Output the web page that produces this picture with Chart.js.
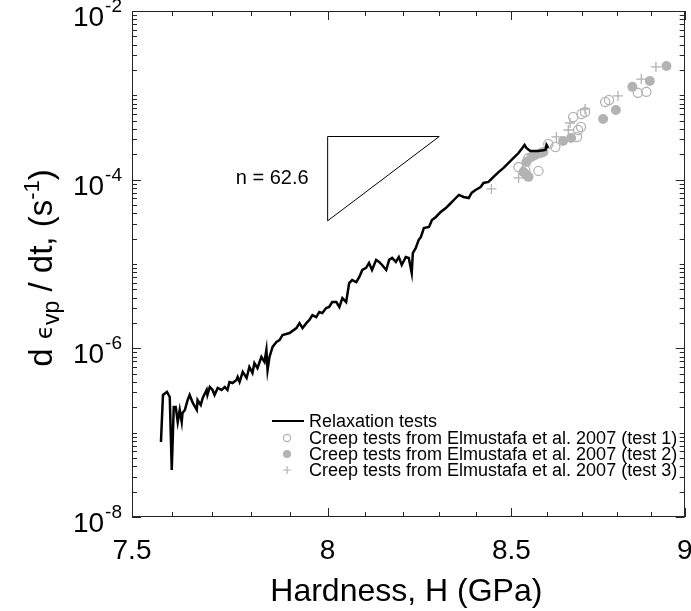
<!DOCTYPE html>
<html>
<head>
<meta charset="utf-8">
<script src="https://cdn.jsdelivr.net/npm/chart.js@4.4.1/dist/chart.umd.min.js"></script>
<style>
  html, body { margin: 0; padding: 0; background: #ffffff; }
  #wrap { width: 691px; height: 611px; }
</style>
</head>
<body>
<div id="wrap"><canvas id="chart" width="691" height="611"></canvas></div>
<script>
// Relaxation test: hardness H (GPa) and viscoplastic strain rate (1/s)
const relaxH = [
  7.572,7.577,7.587,7.594,7.599,7.604,7.609,7.614,7.619,7.624,
  7.626,7.632,7.639,7.644,7.649,7.652,7.662,7.664,7.672,7.677,
  7.687,7.689,7.695,7.702,7.707,7.715,7.725,7.733,7.740,7.745,
  7.753,7.763,7.766,7.771,7.779,7.789,7.796,7.804,7.809,7.817,
  7.827,7.835,7.840,7.843,7.848,7.856,7.866,7.874,7.882,7.900,
  7.918,7.926,7.934,7.944,7.952,7.960,7.970,7.978,7.986,7.996,
  8.004,8.012,8.023,8.031,8.039,8.049,8.057,8.065,8.076,8.084,
  8.092,8.102,8.110,8.118,8.129,8.137,8.145,8.156,8.164,8.172,
  8.182,8.190,8.198,8.209,8.217,8.225,8.228,8.236,8.244,8.250,
  8.258,8.272,8.280,8.291,8.304,8.318,8.332,8.340,8.354,8.367,
  8.381,8.389,8.400,8.414,8.422,8.436,8.450,8.464,8.478,8.492,
  8.506,8.520,8.537,8.542,8.553,8.576,8.596,8.599,8.604
];
const relaxRate = [
  7.76e-8,2.80e-7,3.04e-7,2.65e-7,3.61e-8,2.02e-7,2.02e-7,1.34e-7,1.86e-7,1.34e-7,
  1.71e-7,1.86e-7,2.44e-7,2.80e-7,2.44e-7,2.25e-7,1.86e-7,2.44e-7,2.13e-7,2.58e-7,
  3.21e-7,2.80e-7,3.48e-7,3.21e-7,2.80e-7,3.39e-7,3.21e-7,3.48e-7,3.21e-7,3.99e-7,
  3.88e-7,4.21e-7,4.58e-7,3.99e-7,5.25e-7,4.45e-7,6.01e-7,5.11e-7,6.70e-7,5.84e-7,
  7.90e-7,6.89e-7,9.55e-7,5.53e-7,7.90e-7,1.04e-6,1.19e-6,1.25e-6,1.44e-6,1.52e-6,
  1.74e-6,1.99e-6,1.74e-6,1.99e-6,2.17e-6,2.48e-6,2.35e-6,2.70e-6,2.62e-6,3.01e-6,
  3.09e-6,3.54e-6,3.54e-6,3.09e-6,3.95e-6,3.54e-6,5.94e-6,6.45e-6,6.11e-6,7.01e-6,
  8.50e-6,8.99e-6,1.03e-5,8.49e-6,1.12e-5,1.06e-5,9.73e-6,8.49e-6,1.12e-5,1.18e-5,
  1.06e-5,1.21e-5,9.73e-6,1.21e-5,1.18e-5,7.82e-6,1.35e-5,1.55e-5,1.93e-5,2.09e-5,
  2.67e-5,2.75e-5,3.32e-5,3.61e-5,4.14e-5,4.61e-5,5.29e-5,5.74e-5,6.59e-5,6.23e-5,
  6.06e-5,6.96e-5,7.54e-5,8.18e-5,9.14e-5,9.39e-5,1.08e-4,1.23e-4,1.38e-4,1.58e-4,
  1.81e-4,2.07e-4,2.58e-4,2.38e-4,2.19e-4,2.19e-4,2.25e-4,2.58e-4,2.38e-4
];

// Creep tests (Elmustafa et al. 2007)
const creep1H = [8.767,8.778,8.862,8.887,8.709,8.699,8.675,8.697,8.689,8.686,8.624,8.604,8.548,8.520,8.576,8.539];
const creep1Rate = [8.35e-4,8.81e-4,1.07e-3,1.10e-3,6.35e-4,6.01e-4,5.54e-4,4.22e-4,3.88e-4,3.21e-4,2.44e-4,2.65e-4,1.81e-4,1.41e-4,1.27e-4,1.30e-4];
const creep2H = [8.946,8.897,8.846,8.798,8.761,8.669,8.646,8.590,8.583,8.567,8.556,8.542,8.534,8.542,8.548];
const creep2Rate = [2.23e-3,1.48e-3,1.26e-3,6.71e-4,5.25e-4,3.12e-4,2.88e-4,2.13e-4,2.07e-4,1.96e-4,1.86e-4,1.62e-4,1.23e-4,1.14e-4,1.08e-4];
const creep3H = [8.915,8.872,8.804,8.709,8.666,8.661,8.627,8.520,8.444];
const creep3Rate = [2.17e-3,1.56e-3,9.83e-4,6.89e-4,4.70e-4,3.88e-4,3.21e-4,1.05e-4,7.76e-5];

// Slope triangle for n = 62.6 (one decade of rate over the hardness span)
const slopeH = [8.0, 8.0, 8.30, 8.0];
const slopeRate = [3.25e-5, 3.25e-4, 3.25e-4, 3.25e-5];
const slopeLabel = 'n = 62.6';

// Axis ticks and labels
const xMajorTicks = [7.5, 8, 8.5, 9];
const xTickLabels = ['7.5', '8', '8.5', '9'];
const xMinorTicks = [7.6, 7.7, 7.8, 7.9, 8.1, 8.2, 8.3, 8.4, 8.6, 8.7, 8.8, 8.9];
const yMajorTicks = [1e-8, 1e-6, 1e-4, 1e-2];
const yTickExponents = ['-8', '-6', '-4', '-2'];
const yDecades = [-8, -7, -6, -5, -4, -3];

const seriesLabels = [
  'Relaxation tests',
  'Creep tests from Elmustafa et al. 2007 (test 1)',
  'Creep tests from Elmustafa et al. 2007 (test 2)',
  'Creep tests from Elmustafa et al. 2007 (test 3)'
];

const FONT = '"Liberation Sans", Arial, Helvetica, sans-serif';
const GREY = '#b3b3b3';
const AXIS = '#262626';

const pts = (xs, ys) => xs.map((x, i) => ({ x: x, y: ys[i] }));

// Draws a run of text pieces (normal, subscript, superscript) on one baseline
function drawRuns(ctx, runs, x, y, align) {
  let total = 0;
  runs.forEach(r => {
    ctx.font = (r.size) + 'px ' + (r.family || FONT);
    r.w = ctx.measureText(r.t).width;
    total += r.w;
  });
  let cx = align === 'center' ? x - total / 2 : (align === 'right' ? x - total : x);
  ctx.textAlign = 'left';
  ctx.textBaseline = 'alphabetic';
  runs.forEach(r => {
    ctx.font = (r.size) + 'px ' + (r.family || FONT);
    ctx.fillText(r.t, cx, y + (r.dy || 0));
    cx += r.w;
  });
  return total;
}

const framePlugin = {
  id: 'frame',
  afterDraw(chart) {
    const ctx = chart.ctx;
    const a = chart.chartArea;
    const xs = chart.scales.x, ys = chart.scales.y;
    ctx.save();

    // plot box
    ctx.strokeStyle = AXIS;
    ctx.lineWidth = 1;
    ctx.strokeRect(Math.round(a.left) + 0.5, Math.round(a.top) + 0.5,
                   Math.round(a.right - a.left) - 1, Math.round(a.bottom - a.top) - 1);

    const MAJ = 9, MIN = 5;
    ctx.beginPath();
    // x ticks, bottom and top, pointing inward
    const xTick = (v, len) => {
      const px = Math.round(xs.getPixelForValue(v)) + 0.5;
      ctx.moveTo(px, a.bottom); ctx.lineTo(px, a.bottom - len);
      ctx.moveTo(px, a.top); ctx.lineTo(px, a.top + len);
    };
    xMajorTicks.forEach(v => xTick(v, MAJ));
    xMinorTicks.forEach(v => xTick(v, MIN));
    // y ticks, left and right
    const yTick = (v, len) => {
      const py = Math.round(ys.getPixelForValue(v)) + 0.5;
      ctx.moveTo(a.left, py); ctx.lineTo(a.left + len, py);
      ctx.moveTo(a.right, py); ctx.lineTo(a.right - len, py);
    };
    yMajorTicks.forEach(v => yTick(v, MAJ));
    yDecades.forEach(k => {
      for (let m = 1; m <= 9; m++) {
        const v = m * Math.pow(10, k);
        if (m === 1 && k % 2 === 0) continue;
        yTick(v, MIN);
      }
    });
    ctx.stroke();

    ctx.fillStyle = '#000000';
    // x tick labels
    ctx.font = '28px ' + FONT;
    ctx.textAlign = 'center';
    ctx.textBaseline = 'alphabetic';
    xMajorTicks.forEach((v, i) => {
      ctx.fillText(xTickLabels[i], xs.getPixelForValue(v), 559);
    });

    // y tick labels: 10 with superscript exponent
    yMajorTicks.forEach((v, i) => {
      const py = ys.getPixelForValue(v);
      ctx.font = '19px ' + FONT;
      const sw = ctx.measureText(yTickExponents[i]).width;
      const supLeft = a.left - 10 - sw;
      ctx.textAlign = 'left';
      ctx.fillText(yTickExponents[i], supLeft, py + 1);
      ctx.font = '28px ' + FONT;
      ctx.textAlign = 'right';
      ctx.fillText('10', supLeft - 1, py + 15);
    });

    // x axis title
    ctx.font = '32px ' + FONT;
    ctx.textAlign = 'center';
    ctx.fillText('Hardness, H (GPa)', (a.left + a.right) / 2 - 2, 601);

    // y axis title, rotated
    ctx.save();
    ctx.translate(52, 268);
    ctx.rotate(-Math.PI / 2);
    drawRuns(ctx, [
      { t: 'd ', size: 33 },
      { t: '\u03F5', size: 23, family: '"DejaVu Sans", sans-serif' },
      { t: 'vp', size: 23, dy: 7 },
      { t: ' / dt, (s', size: 33 },
      { t: '-1', size: 22, dy: -13 },
      { t: ')', size: 33 }
    ], 0, 0, 'center');
    ctx.restore();

    // slope label
    ctx.font = '20px ' + FONT;
    ctx.textAlign = 'right';
    ctx.textBaseline = 'middle';
    ctx.fillText(slopeLabel, xs.getPixelForValue(slopeH[0]) - 19,
                 ys.getPixelForValue(Math.sqrt(slopeRate[0] * slopeRate[1])));

    // legend
    const lx = 272, tx = 309, rows = [421, 438, 454, 470];
    ctx.font = '18px ' + FONT;
    ctx.textAlign = 'left';
    ctx.textBaseline = 'middle';
    rows.forEach((ry, i) => {
      const mx = 287;
      if (i === 0) {
        ctx.strokeStyle = '#000'; ctx.lineWidth = 2;
        ctx.beginPath(); ctx.moveTo(lx, ry); ctx.lineTo(304, ry); ctx.stroke();
      } else if (i === 1) {
        ctx.strokeStyle = GREY; ctx.lineWidth = 1.2;
        ctx.beginPath(); ctx.arc(mx, ry, 3.6, 0, Math.PI * 2); ctx.stroke();
      } else if (i === 2) {
        ctx.fillStyle = GREY;
        ctx.beginPath(); ctx.arc(mx, ry, 4, 0, Math.PI * 2); ctx.fill();
      } else {
        ctx.strokeStyle = GREY; ctx.lineWidth = 1.2;
        ctx.beginPath();
        ctx.moveTo(mx - 4, ry); ctx.lineTo(mx + 4, ry);
        ctx.moveTo(mx, ry - 4); ctx.lineTo(mx, ry + 4);
        ctx.stroke();
      }
      ctx.fillStyle = '#000';
      ctx.fillText(seriesLabels[i], tx, ry + 1);
    });

    ctx.restore();
  }
};

new Chart(document.getElementById('chart'), {
  type: 'scatter',
  data: {
    datasets: [
      {
        label: seriesLabels[0], type: 'line', data: pts(relaxH, relaxRate),
        borderColor: '#000000', borderWidth: 2.5, pointRadius: 0,
        tension: 0, fill: false, order: 0
      },
      {
        label: seriesLabels[1], data: pts(creep1H, creep1Rate),
        pointStyle: 'circle', pointRadius: 4.6, backgroundColor: 'rgba(0,0,0,0)',
        borderColor: GREY, borderWidth: 1.3, order: 2
      },
      {
        label: seriesLabels[2], data: pts(creep2H, creep2Rate),
        pointStyle: 'circle', pointRadius: 5, backgroundColor: GREY,
        borderColor: GREY, borderWidth: 0, order: 3
      },
      {
        label: seriesLabels[3], data: pts(creep3H, creep3Rate),
        pointStyle: 'cross', pointRadius: 5, backgroundColor: GREY,
        borderColor: GREY, borderWidth: 1.3, order: 1
      },
      {
        label: 'slope', type: 'line', data: pts(slopeH, slopeRate),
        borderColor: '#000000', borderWidth: 1, pointRadius: 0,
        tension: 0, fill: false, order: 0
      }
    ]
  },
  options: {
    responsive: false,
    animation: false,
    events: [],
    layout: { padding: { left: 132, right: 4, top: 11, bottom: 94 } },
    plugins: { legend: { display: false }, tooltip: { enabled: false } },
    scales: {
      x: { type: 'logarithmic', min: 7.5, max: 9, display: false },
      y: { type: 'logarithmic', min: 1e-8, max: 1e-2, display: false }
    }
  },
  plugins: [framePlugin]
});
</script>
</body>
</html>
